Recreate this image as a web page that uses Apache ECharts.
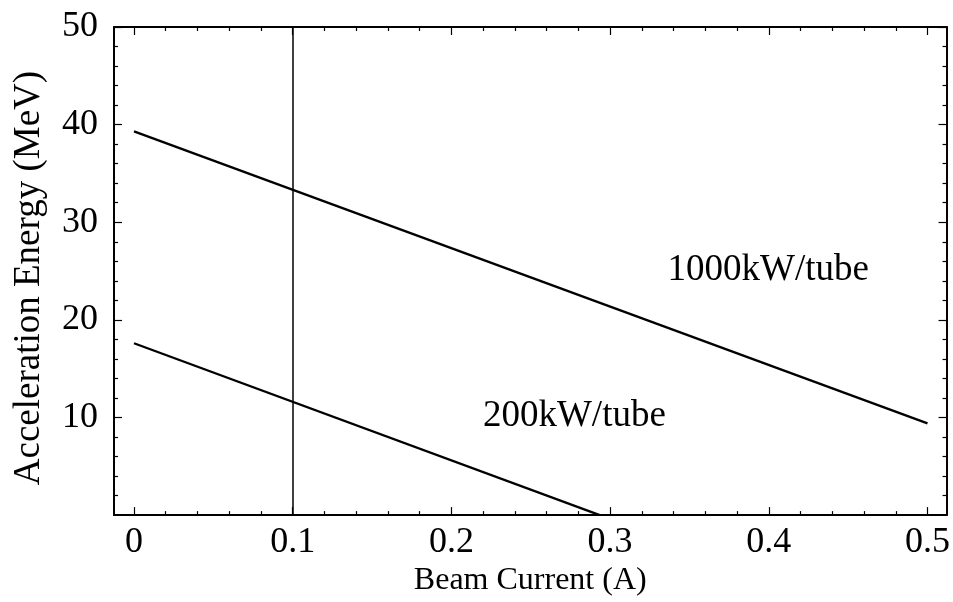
<!DOCTYPE html>
<html><head><meta charset="utf-8">
<script src="https://cdn.jsdelivr.net/npm/echarts@6/dist/echarts.min.js"></script>
<style>html,body{margin:0;padding:0;background:#fff}#c{width:953px;height:602px}</style>
</head><body><div id="c"></div>
<script>
// Data
const xMajorTicks = [0, 0.1, 0.2, 0.3, 0.4, 0.5];
const xMinorTicks = [0.02,0.04,0.06,0.08,0.12,0.14,0.16,0.18,0.22,0.24,0.26,0.28,0.32,0.34,0.36,0.38,0.42,0.44,0.46,0.48];
const yMajorTicks = [10, 20, 30, 40, 50];
const yMinorTicks = [2,4,6,8,12,14,16,18,22,24,26,28,32,34,36,38,42,44,46,48];
const line1000 = [[0, 39.3], [0.5, 9.4]];
const line200 = [[0, 17.6], [0.2935, 0]];
const verticalX = 0.1;
const labelTexts = ['1000kW/tube', '200kW/tube'];
const labelX = [0.3996, 0.2775];
const labelY = [25.1, 10.1];

const xMin = -0.0126, xMax = 0.512, yMin = 0, yMax = 50;
const FONT = '"Liberation Serif", "DejaVu Serif", serif';

function xAx(pos, values, len, showLine, showLabel) {
  return {
    type: 'value', position: pos, min: xMin, max: xMax,
    axisLine: {show: showLine, onZero: false, lineStyle: {color: '#000', width: 2}},
    axisTick: {show: true, inside: true, length: len, customValues: values, lineStyle: {color: '#000', width: 1.2}},
    axisLabel: {show: showLabel, customValues: values, color: '#000', fontFamily: FONT, fontSize: 36, margin: 9},
    splitLine: {show: false},
    name: showLabel ? 'Beam Current (A)' : '', nameLocation: 'middle', nameGap: 48,
    nameTextStyle: {color: '#000', fontFamily: FONT, fontSize: 32}
  };
}
function yAx(pos, values, len, showLine, showLabel) {
  return {
    type: 'value', position: pos, min: yMin, max: yMax,
    axisLine: {show: showLine, onZero: false, lineStyle: {color: '#000', width: 2}},
    axisTick: {show: true, inside: true, length: len, customValues: values, lineStyle: {color: '#000', width: 1.2}},
    axisLabel: {show: showLabel, customValues: values, color: '#000', fontFamily: FONT, fontSize: 36, margin: 16},
    splitLine: {show: false},
    name: showLabel ? 'Acceleration Energy (MeV)' : '', nameLocation: 'middle', nameGap: 66, nameRotate: 90,
    nameTextStyle: {color: '#000', fontFamily: FONT, fontSize: 37, padding: [0, 14, 0, 0]}
  };
}

const chart = echarts.init(document.getElementById('c'), null, {renderer: 'canvas'});
chart.setOption({
  animation: false,
  backgroundColor: '#fff',
  grid: {left: 114, right: 6, top: 27, bottom: 82, containLabel: false},
  xAxis: [
    xAx('bottom', xMajorTicks, 8, true, true),
    xAx('bottom', xMinorTicks, 4, false, false),
    xAx('top', xMajorTicks, 8, true, false),
    xAx('top', xMinorTicks, 4, false, false)
  ],
  yAxis: [
    yAx('left', yMajorTicks, 8, true, true),
    yAx('left', yMinorTicks, 4, false, false),
    yAx('right', yMajorTicks, 8, true, false),
    yAx('right', yMinorTicks, 4, false, false)
  ],
  series: [
    {type: 'line', data: line1000, symbol: 'none', lineStyle: {color: '#000', width: 2.3},
     markLine: {silent: true, symbol: 'none', label: {show: false},
       lineStyle: {color: '#000', width: 1.5, type: 'solid'}, data: [{xAxis: verticalX}]}},
    {type: 'line', data: line200, symbol: 'none', lineStyle: {color: '#000', width: 2.3}},
    {type: 'scatter', symbolSize: 0, itemStyle: {opacity: 1},
     data: labelTexts.map((t, i) => ({value: [labelX[i], labelY[i]], name: t})),
     label: {show: true, position: 'inside', formatter: p => p.name, color: '#000', opacity: 1,
             fontFamily: FONT, fontSize: 37}}
  ]
});
</script></body></html>
